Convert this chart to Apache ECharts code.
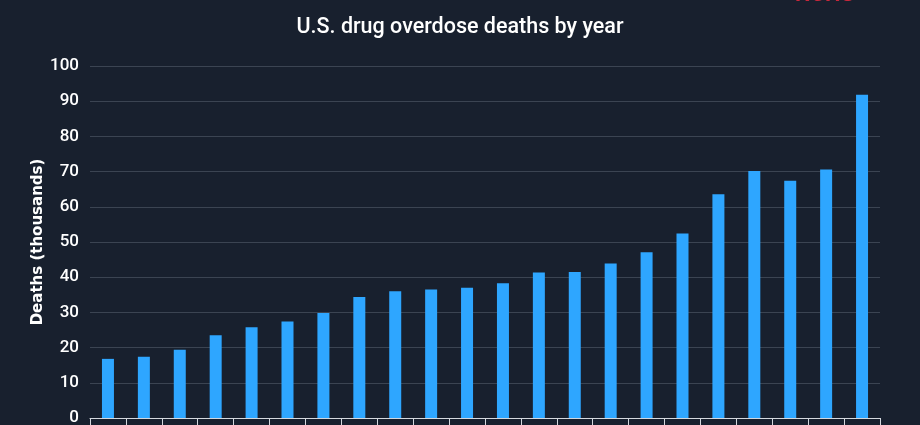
<!DOCTYPE html>
<html>
<head>
<meta charset="utf-8">
<script src="https://cdn.jsdelivr.net/npm/echarts@6/dist/echarts.min.js"></script>
<style>
html,body{margin:0;padding:0;background:#18202e;}
#chart{width:920px;height:425px;}
</style>
</head>
<body>
<div id="chart"></div>
<script>
const years = ['1999','2000','2001','2002','2003','2004','2005','2006','2007','2008','2009','2010','2011','2012','2013','2014','2015','2016','2017','2018','2019','2020'];
const deaths = [16.8,17.4,19.4,23.5,25.8,27.4,29.8,34.4,36.0,36.5,37.0,38.3,41.3,41.5,43.9,47.1,52.4,63.6,70.2,67.4,70.6,91.8];
const titleText = 'U.S. drug overdose deaths by year';
const yAxisName = 'Deaths (thousands)';
const sourceTag = 'NCHS';

const chart = echarts.init(document.getElementById('chart'), null, {renderer:'canvas'});
chart.setOption({
  backgroundColor: '#18202e',
  animation: false,
  title: {
    text: titleText,
    left: 'center',
    top: 12,
    textStyle: {color:'#ffffff', fontSize:21.5, fontWeight:500, fontFamily:'Roboto'}
  },
  graphic: [{
    type:'text', left: 795, top: -16,
    style:{text: sourceTag, fill:'#c8283c', font:'bold 22px Roboto'}
  }],
  grid: {left:90, right:40, top:66, bottom:7, containLabel:false, outerBoundsMode:'none'},
  xAxis: {
    type:'category',
    data: years,
    axisLine:{show:true, lineStyle:{color:'#d4d8de', width:1}},
    axisTick:{show:true, alignWithLabel:false, length:8, lineStyle:{color:'#d4d8de'}},
    axisLabel:{show:true, color:'#ffffff', fontSize:14, interval:0, margin:12}
  },
  yAxis: {
    type:'value', min:0, max:100, interval:10,
    name: yAxisName,
    nameLocation:'middle',
    nameGap:44,
    nameMoveOverlap:false,
    nameTextStyle:{color:'#ffffff', fontSize:15, fontWeight:'bold', fontFamily:'DejaVu Sans'},
    axisLabel:{color:'#ffffff', fontSize:17, fontWeight:500, fontFamily:'Roboto', margin:11},
    axisLine:{show:false},
    axisTick:{show:false},
    splitLine:{lineStyle:{color:'#3b4452', width:1}}
  },
  series: [{
    type:'bar',
    data: deaths,
    barWidth: 12,
    itemStyle:{color:'#2ea6ff'}
  }]
});
</script>
</body>
</html>
